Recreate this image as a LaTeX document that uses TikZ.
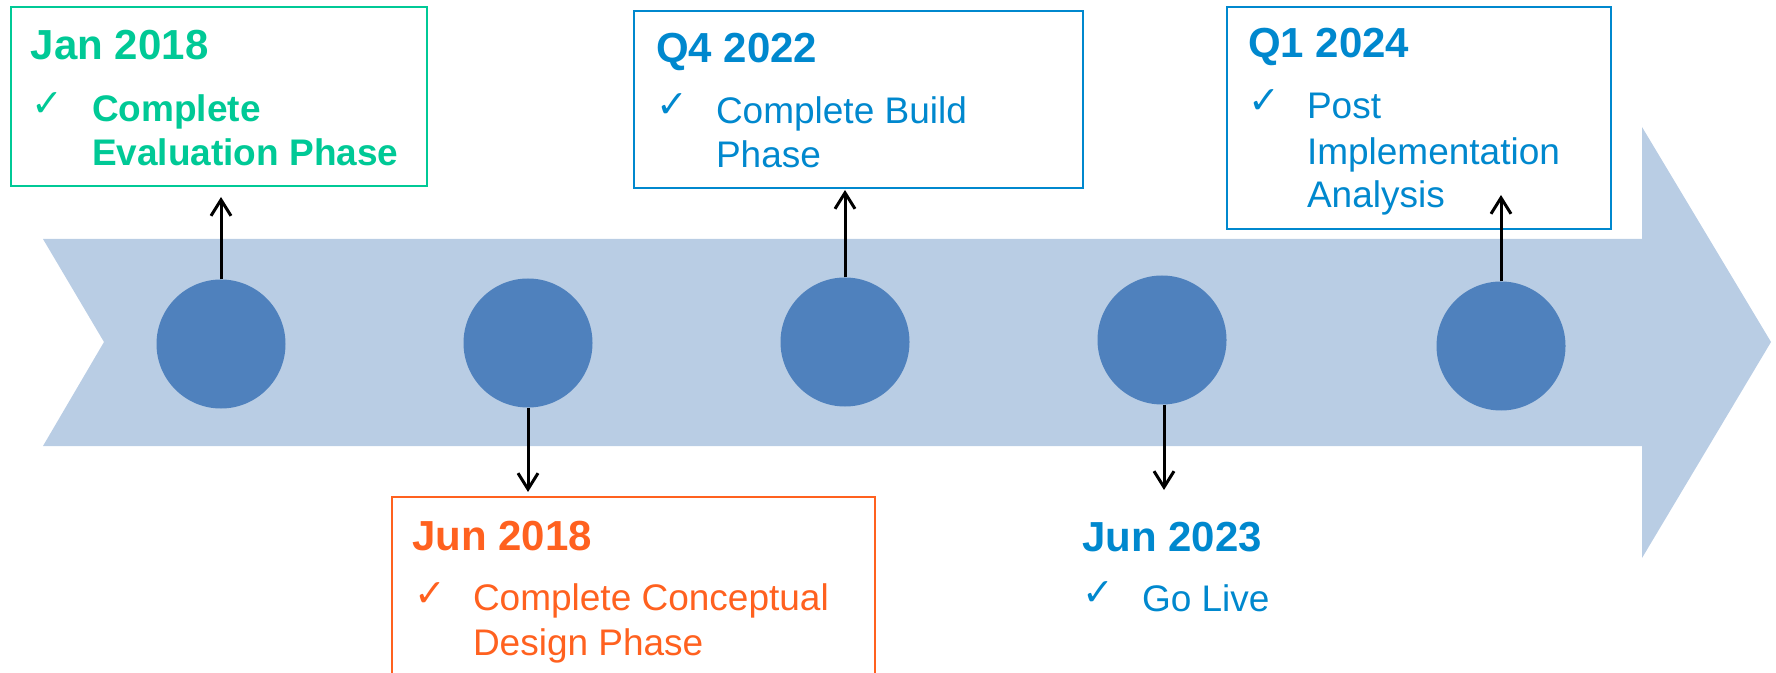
\documentclass[tikz,border=0pt]{standalone}
\usepackage{fontspec}
\setmainfont{Liberation Sans}
\newfontfamily\checkfont{DejaVu Sans}
\usetikzlibrary{arrows.meta}
\definecolor{bandblue}{RGB}{185,205,228}
\definecolor{dotblue}{RGB}{79,129,189}
\definecolor{mintgreen}{RGB}{0,201,150}
\definecolor{skyblue}{RGB}{0,136,206}
\definecolor{flame}{RGB}{255,97,31}
\begin{document}
\begin{tikzpicture}[x=0.5pt,y=-0.5pt,
  every node/.style={inner sep=0pt, outer sep=0pt},
  txt/.style={anchor=base west},
  title/.style={txt, font=\fontsize{21}{25}\selectfont\bfseries},
  body/.style={txt, font=\fontsize{18.5}{22}\selectfont},
  tick/.style={txt, font=\checkfont\fontsize{19}{22}\selectfont},
  frame/.style={draw, line width=1pt, fill=white, rectangle},
  dot/.style={circle, fill=dotblue, minimum size=64.5pt},
  link/.style={-{Straight Barb[length=8pt,width=10pt]}, line width=1.5pt, black}]
\useasboundingbox (0,0) rectangle (1776,673);
\clip (0,0) rectangle (1776,673);

% timeline band
\fill[bandblue] (43,239) -- (1642,239) -- (1642,127) -- (1771,342)
  -- (1642,558) -- (1642,446) -- (43,446) -- (104,342) -- cycle;

% milestone dots
\node[dot] (c1) at (221,344) {};
\node[dot] (c2) at (528,343) {};
\node[dot] (c3) at (845,342) {};
\node[dot] (c4) at (1162,340) {};
\node[dot] (c5) at (1501,346) {};

% frames
\node[frame, draw=mintgreen, minimum width=208pt, minimum height=89.5pt] (b1) at (219,96.5) {};
\node[frame, draw=skyblue, minimum width=224.5pt, minimum height=88.5pt] (b2) at (858.5,99.5) {};
\node[frame, draw=skyblue, minimum width=192pt, minimum height=111pt] (b3) at (1419,118) {};
\node[frame, draw=flame, minimum width=241.5pt, minimum height=101.5pt] (b4) at (633.5,598.5) {};

% Jan 2018
\node[title, text=mintgreen] (h1) at (31,60) {Jan 2018};
\node[tick, text=mintgreen] (k1) at (32,117) {✓};
\node[body, text=mintgreen, font=\fontsize{18.5}{22}\selectfont\bfseries] (l1a) at (92,122) {Complete};
\node[body, text=mintgreen, font=\fontsize{18.5}{22}\selectfont\bfseries] (l1b) at (92,166) {Evaluation Phase};

% Q4 2022
\node[title, text=skyblue] (h3) at (656,63) {Q4 2022};
\node[tick, text=skyblue] (k3) at (656,118) {✓};
\node[body, text=skyblue] (l3a) at (716,124) {Complete Build};
\node[body, text=skyblue] (l3b) at (716,168) {Phase};

% Q1 2024
\node[title, text=skyblue] (h5) at (1248,58) {Q1 2024};
\node[tick, text=skyblue] (k5) at (1248,114) {✓};
\node[body, text=skyblue] (l5a) at (1307,119) {Post};
\node[body, text=skyblue] (l5b) at (1307,165) {Implementation};
\node[body, text=skyblue] (l5c) at (1307,208) {Analysis};

% Jun 2018
\node[title, text=flame] (h2) at (412,550) {Jun 2018};
\node[tick, text=flame] (k2) at (414,606) {✓};
\node[body, text=flame] (l2a) at (473,610) {Complete Conceptual};
\node[body, text=flame] (l2b) at (473,655) {Design Phase};

% Jun 2023
\node[title, text=skyblue] (h4) at (1082,551) {Jun 2023};
\node[tick, text=skyblue] (k4) at (1082,605) {✓};
\node[body, text=skyblue] (l4a) at (1142,611) {Go Live};

% connectors
\coordinate (t1) at (221,197);
\coordinate (t2) at (528,492);
\coordinate (t3) at (845,190);
\coordinate (t4) at (1164,490);
\coordinate (t5) at (1501,195);
\draw[link] (c1) -- (t1);
\draw[link] (c2) -- (t2);
\draw[link] (c3) -- (t3);
\draw[link] (c4.south -| t4) -- (t4);
\draw[link] (c5) -- (t5);
\end{tikzpicture}
\end{document}
